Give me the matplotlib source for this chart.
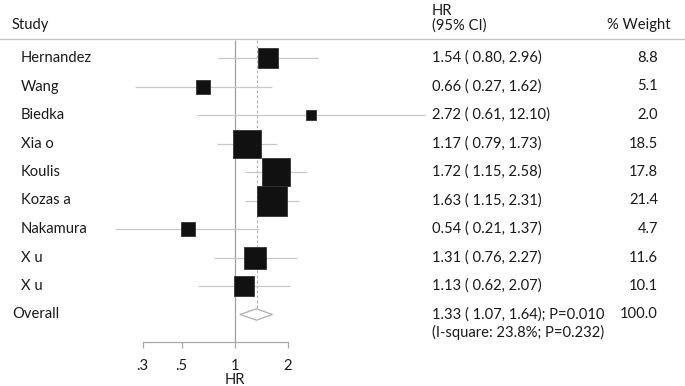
import numpy as np
import matplotlib
matplotlib.use("Agg")
import matplotlib.pyplot as plt
import matplotlib.transforms as mtransforms
from matplotlib.ticker import FixedLocator, FixedFormatter, NullLocator

plt.rcParams['font.family'] = ['Lato', 'DejaVu Sans']

# data
studies = ["Hernandez", "Wang", "Biedka", "Xia o", "Koulis", "Kozas a",
           "Nakamura", "X u", "X u"]
hr = [1.54, 0.66, 2.72, 1.17, 1.72, 1.63, 0.54, 1.31, 1.13]
lo = [0.80, 0.27, 0.61, 0.79, 1.15, 1.15, 0.21, 0.76, 0.62]
hi = [2.96, 1.62, 12.10, 1.73, 2.58, 2.31, 1.37, 2.27, 2.07]
weight = [8.8, 5.1, 2.0, 18.5, 17.8, 21.4, 4.7, 11.6, 10.1]
overall_hr, overall_lo, overall_hi = 1.33, 1.07, 1.64
overall_p = "0.010"
i_square, het_p = "23.8%", "0.232"
tick_vals = [0.3, 0.5, 1, 2]
tick_labels = [".3", ".5", "1", "2"]

W, H = 685, 386
ROW0, ROWH = 58, 28.5      # pixel y of first row, row spacing
X0, XS = 234.7, 76.5       # pixel x of HR=1, pixels per ln unit
FS = 10.6


def row(ypx):
    return (ypx - ROW0) / ROWH


def fx(xpx):
    return xpx / W


fig = plt.figure(figsize=(W / 100, H / 100), dpi=100)
ax = fig.add_axes([0, 0, 1, 1])
ax.set_xscale("log")
ax.set_xlim(np.exp(-X0 / XS), np.exp((W - X0) / XS))
ax.set_ylim(row(H), row(0))
for s in ["top", "left", "right"]:
    ax.spines[s].set_visible(False)
ax.yaxis.set_visible(False)

# bottom axis
ax.spines["bottom"].set_position(("data", row(341.7)))
ax.spines["bottom"].set_bounds(0.3, 2)
ax.spines["bottom"].set_color("#a8a8a8")
ax.spines["bottom"].set_linewidth(0.9)
ax.xaxis.set_major_locator(FixedLocator(tick_vals))
ax.xaxis.set_major_formatter(FixedFormatter(tick_labels))
ax.xaxis.set_minor_locator(NullLocator())
ax.tick_params(axis="x", direction="out", length=4.5, width=0.9,
               color="#a8a8a8", pad=8, labelsize=FS, labelcolor="#1a1a1a")

tx = mtransforms.blended_transform_factory(ax.transAxes, ax.transData)
txt = dict(color="#1a1a1a", fontsize=FS, va="center")

# header
ax.text(fx(12), row(25), "Study", transform=tx, ha="left", **txt)
ax.text(fx(432), row(11), "HR", transform=tx, ha="left", **txt)
ax.text(fx(432), row(25.5), "(95% CI)", transform=tx, ha="left", **txt)
ax.text(fx(671), row(25.5), "% Weight", transform=tx, ha="right", **txt)
ax.plot([0, 1], [row(38.5)] * 2, transform=tx, color="#c4c4c4", lw=0.9)

# reference lines
ax.vlines(1, row(40), row(341.7), color="#a0a0a0", lw=0.9, zorder=1)
ax.vlines(overall_hr, row(40), len(studies) - 0.2, color="#b0b0b0", lw=0.8,
          linestyles=(0, (2.5, 2)), zorder=1)

# studies
y = np.arange(len(studies))
ax.hlines(y, lo, hi, color="#c8c8c8", lw=0.9, zorder=2)
for yi, h, w in zip(y, hr, weight):
    side = 6.6 * np.sqrt(w) * 0.72
    ax.plot(h, yi, marker="s", ms=side, color="#111111",
            mec="#333333", mew=0.6, zorder=3)

for yi, name, h, l, u, w in zip(y, studies, hr, lo, hi, weight):
    ax.text(fx(20.7), yi, name, transform=tx, ha="left", **txt)
    ax.text(fx(432), yi, f"{h:.2f} ( {l:.2f}, {u:.2f})", transform=tx,
            ha="left", **txt)
    ax.text(fx(658), yi, f"{w:.1f}", transform=tx, ha="right", **txt)

# overall
yo = len(studies)
dh = 0.2
ax.fill([overall_lo, overall_hr, overall_hi, overall_hr],
        [yo, yo - dh, yo, yo + dh], facecolor="white", edgecolor="#b0b0b0",
        lw=0.9, zorder=3)
ax.text(fx(12.7), yo, "Overall", transform=tx, ha="left", **txt)
ax.text(fx(432), yo,
        f"{overall_hr:.2f} ( {overall_lo:.2f}, {overall_hi:.2f}); P={overall_p}",
        transform=tx, ha="left", **txt)
ax.text(fx(432), row(332), f"(I-square: {i_square}; P={het_p})",
        transform=tx, ha="left", **txt)
ax.text(fx(658), yo, f"{sum(weight):.1f}", transform=tx, ha="right", **txt)

ax.text(1, row(379.5), "HR", ha="center", **txt)

fig.savefig("out.png", dpi=100)
